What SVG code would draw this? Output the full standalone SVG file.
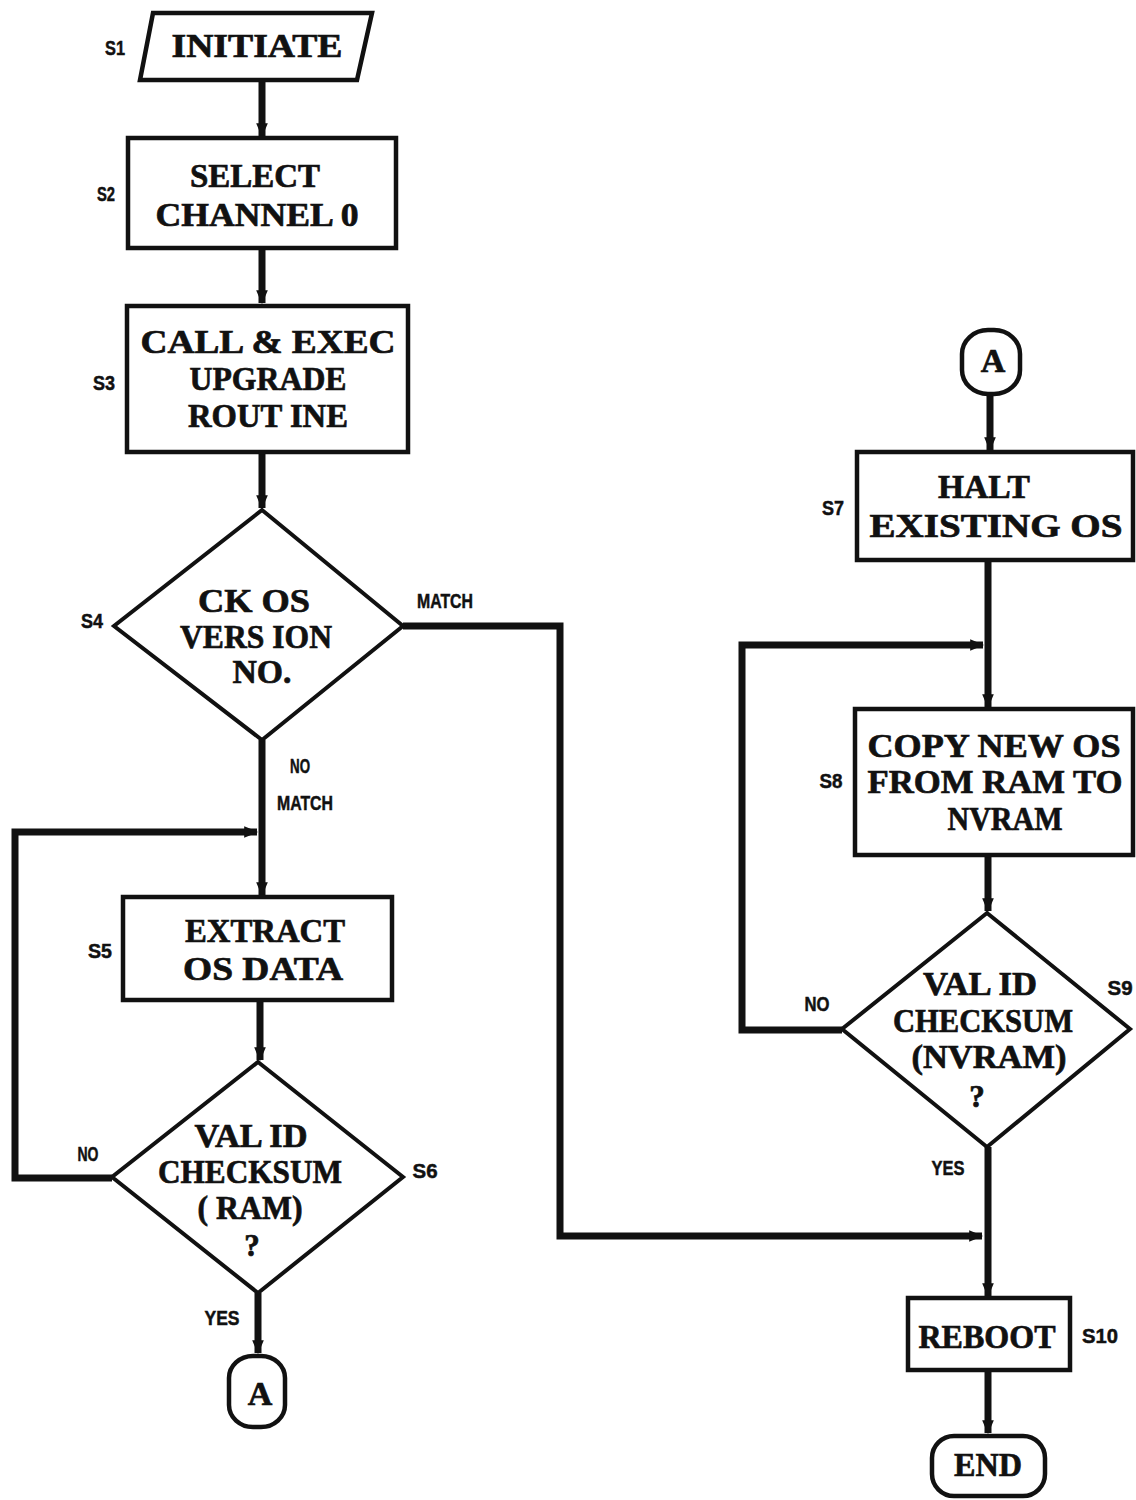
<svg xmlns="http://www.w3.org/2000/svg" width="1136" height="1500" viewBox="0 0 1136 1500">
<defs>
<marker id="arr" viewBox="0 0 12 12" refX="11" refY="6" markerWidth="14" markerHeight="14" markerUnits="userSpaceOnUse" orient="auto">
<path d="M0,1 L12,6 L0,11 z" fill="#111"/>
</marker>
<style>
.box{fill:#fff;stroke:#111;stroke-width:4.5}
.dia{fill:#fff;stroke:#111;stroke-width:4}
.con{fill:none;stroke:#111;stroke-width:7;stroke-linejoin:miter}
.t{font-family:"Liberation Serif","Times New Roman",serif;font-weight:bold;font-size:34px;fill:#111;stroke:#111;stroke-width:0.7;text-anchor:middle}
.s{font-family:"Liberation Sans",Arial,sans-serif;font-weight:bold;font-size:21px;fill:#111;stroke:#111;stroke-width:0.5;text-anchor:middle}
.q{font-size:31px}
</style>
</defs>
<rect width="1136" height="1500" fill="#fff"/>

<g id="connectors">
<path class="con" d="M262,80 V136" marker-end="url(#arr)"/>
<path class="con" d="M262,248 V303" marker-end="url(#arr)"/>
<path class="con" d="M262,452 V508" marker-end="url(#arr)"/>
<path class="con" d="M403,626 H560 V1236 H982" marker-end="url(#arr)"/>
<path class="con" d="M262,740 V895" marker-end="url(#arr)"/>
<path class="con" d="M112,1178 H15 V832 H257" marker-end="url(#arr)"/>
<path class="con" d="M260,1000 V1060" marker-end="url(#arr)"/>
<path class="con" d="M258,1293 V1353" marker-end="url(#arr)"/>
<path class="con" d="M990,395 V450" marker-end="url(#arr)"/>
<path class="con" d="M988,560 V707" marker-end="url(#arr)"/>
<path class="con" d="M842,1030 H742 V645 H983" marker-end="url(#arr)"/>
<path class="con" d="M988,855 V911" marker-end="url(#arr)"/>
<path class="con" d="M988,1147 V1296" marker-end="url(#arr)"/>
<path class="con" d="M988,1370 V1433" marker-end="url(#arr)"/>
</g>

<g id="S1">
<polygon class="box" points="153,13 372,13 357,80 140,80"/>
<text class="t" x="257" y="57" textLength="171" lengthAdjust="spacingAndGlyphs">INITIATE</text>
<text class="s" x="115" y="55" textLength="20" lengthAdjust="spacingAndGlyphs">S1</text>
</g>

<g id="S2">
<rect class="box" x="128" y="138" width="268" height="110"/>
<text class="t" x="255" y="187" textLength="130" lengthAdjust="spacingAndGlyphs">SELECT</text>
<text class="t" x="257" y="226" textLength="203" lengthAdjust="spacingAndGlyphs">CHANNEL  0</text>
<text class="s" x="106" y="201" textLength="18" lengthAdjust="spacingAndGlyphs">S2</text>
</g>

<g id="S3">
<rect class="box" x="127" y="306" width="281" height="146"/>
<text class="t" x="268" y="353" textLength="255" lengthAdjust="spacingAndGlyphs">CALL &amp; EXEC</text>
<text class="t" x="268" y="390" textLength="157" lengthAdjust="spacingAndGlyphs">UPGRADE</text>
<text class="t" x="268" y="427" textLength="160" lengthAdjust="spacingAndGlyphs">ROUT INE</text>
<text class="s" x="104" y="390" textLength="22" lengthAdjust="spacingAndGlyphs">S3</text>
</g>

<g id="S4">
<polygon class="dia" points="262,510 403,626 262,740 114,626"/>
<text class="t" x="254" y="612" textLength="112" lengthAdjust="spacingAndGlyphs">CK OS</text>
<text class="t" x="256" y="648" textLength="152" lengthAdjust="spacingAndGlyphs">VERS ION</text>
<text class="t" x="262" y="683" textLength="59" lengthAdjust="spacingAndGlyphs">NO.</text>
<text class="s" x="92" y="628" textLength="22" lengthAdjust="spacingAndGlyphs">S4</text>
<text class="s" x="445" y="608" textLength="56" lengthAdjust="spacingAndGlyphs">MATCH</text>
<text class="s" x="300" y="773" textLength="20" lengthAdjust="spacingAndGlyphs">NO</text>
<text class="s" x="305" y="810" textLength="56" lengthAdjust="spacingAndGlyphs">MATCH</text>
</g>

<g id="S5">
<rect class="box" x="123" y="897" width="269" height="103"/>
<text class="t" x="265" y="942" textLength="160" lengthAdjust="spacingAndGlyphs">EXTRACT</text>
<text class="t" x="263" y="980" textLength="160" lengthAdjust="spacingAndGlyphs">OS  DATA</text>
<text class="s" x="100" y="958" textLength="24" lengthAdjust="spacingAndGlyphs">S5</text>
</g>

<g id="S6">
<polygon class="dia" points="258,1062 403,1177 258,1293 112,1177"/>
<text class="t" x="251" y="1147" textLength="113" lengthAdjust="spacingAndGlyphs">VAL ID</text>
<text class="t" x="250" y="1183" textLength="184" lengthAdjust="spacingAndGlyphs">CHECKSUM</text>
<text class="t" x="250" y="1219" textLength="105" lengthAdjust="spacingAndGlyphs">( RAM)</text>
<text class="t q" x="252" y="1256">?</text>
<text class="s" x="425" y="1178" textLength="25" lengthAdjust="spacingAndGlyphs">S6</text>
<text class="s" x="88" y="1161" textLength="21" lengthAdjust="spacingAndGlyphs">NO</text>
<text class="s" x="222" y="1325" textLength="35" lengthAdjust="spacingAndGlyphs">YES</text>
</g>

<g id="A1">
<rect class="box" x="229" y="1356" width="56" height="71" rx="24" ry="22"/>
<text class="t" x="260" y="1405" font-size="32">A</text>
</g>

<g id="A2">
<rect class="box" x="962" y="330" width="58" height="64" rx="26" ry="24"/>
<text class="t" x="993" y="372" font-size="32">A</text>
</g>

<g id="S7">
<rect class="box" x="857" y="452" width="276" height="108"/>
<text class="t" x="984" y="498" textLength="92" lengthAdjust="spacingAndGlyphs">HALT</text>
<text class="t" x="996" y="537" textLength="253" lengthAdjust="spacingAndGlyphs">EXISTING OS</text>
<text class="s" x="833" y="515" textLength="22" lengthAdjust="spacingAndGlyphs">S7</text>
</g>

<g id="S8">
<rect class="box" x="855" y="709" width="278" height="146"/>
<text class="t" x="994" y="757" textLength="253" lengthAdjust="spacingAndGlyphs">COPY NEW OS</text>
<text class="t" x="995" y="793" textLength="255" lengthAdjust="spacingAndGlyphs">FROM RAM TO</text>
<text class="t" x="1005" y="830" textLength="115" lengthAdjust="spacingAndGlyphs">NVRAM</text>
<text class="s" x="831" y="788" textLength="23" lengthAdjust="spacingAndGlyphs">S8</text>
</g>

<g id="S9">
<polygon class="dia" points="987,913 1130,1029 987,1147 842,1029"/>
<text class="t" x="980" y="995" textLength="114" lengthAdjust="spacingAndGlyphs">VAL ID</text>
<text class="t" x="983" y="1032" textLength="180" lengthAdjust="spacingAndGlyphs">CHECKSUM</text>
<text class="t" x="989" y="1068" textLength="155" lengthAdjust="spacingAndGlyphs">(NVRAM)</text>
<text class="t q" x="977" y="1107">?</text>
<text class="s" x="1120" y="995" textLength="25" lengthAdjust="spacingAndGlyphs">S9</text>
<text class="s" x="817" y="1011" textLength="25" lengthAdjust="spacingAndGlyphs">NO</text>
<text class="s" x="948" y="1175" textLength="33" lengthAdjust="spacingAndGlyphs">YES</text>
</g>

<g id="S10">
<rect class="box" x="908" y="1298" width="162" height="72"/>
<text class="t" x="987" y="1348" textLength="137" lengthAdjust="spacingAndGlyphs">REBOOT</text>
<text class="s" x="1100" y="1343" textLength="36" lengthAdjust="spacingAndGlyphs">S10</text>
</g>

<g id="END">
<rect class="box" x="932" y="1436" width="113" height="60" rx="22" ry="22"/>
<text class="t" x="988" y="1476" textLength="68" lengthAdjust="spacingAndGlyphs">END</text>
</g>
</svg>
